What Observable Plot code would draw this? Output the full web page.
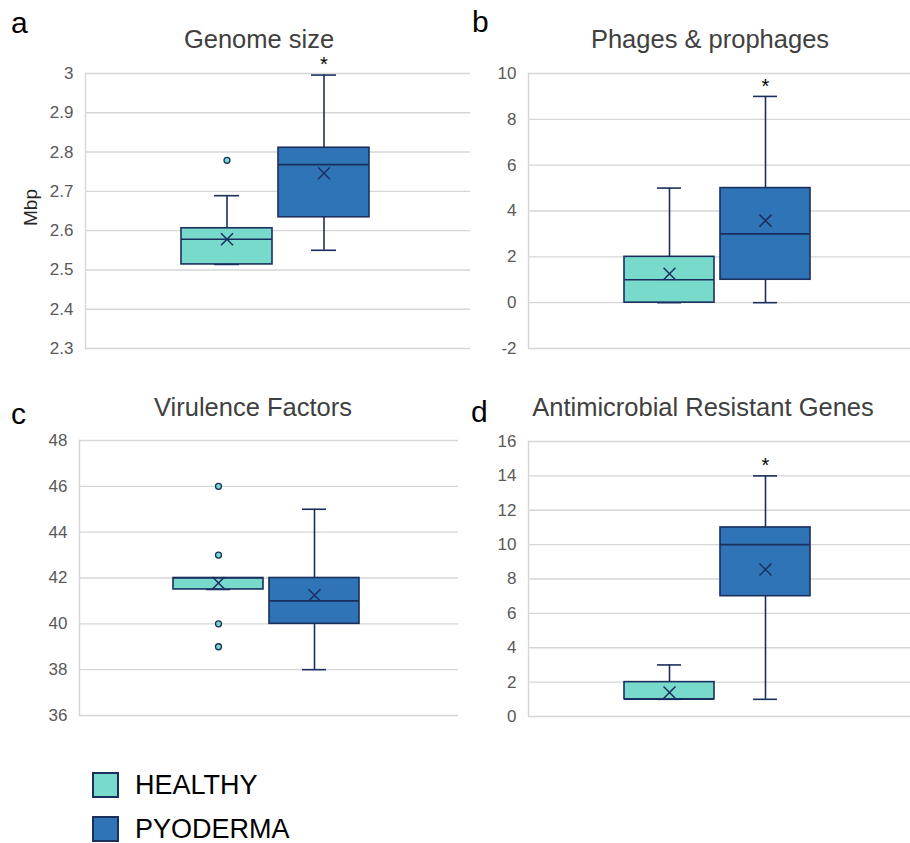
<!DOCTYPE html>
<html>
<head>
<meta charset="utf-8">
<script src="https://cdn.jsdelivr.net/npm/d3@7"></script>
<script src="https://cdn.jsdelivr.net/npm/@observablehq/plot@0.6"></script>
<style>
  body { margin: 0; background: #fff; }
  #root { position: relative; width: 910px; height: 843px; overflow: hidden; font-family: "Liberation Sans", Arial, sans-serif; }
  .panel { position: absolute; }
  .title { position: absolute; font-size: 25.5px; color: #404040; white-space: nowrap; transform: translateX(-50%); line-height: 1; }
  .letter { position: absolute; font-size: 30px; color: #000; line-height: 1; }
  .ylab { position: absolute; font-size: 19px; color: #262626; transform: rotate(-90deg); transform-origin: center; white-space: nowrap; line-height: 1; }
  .leg { position: absolute; display: flex; align-items: center; font-size: 27px; color: #000; line-height: 1; height: 26px; }
  .sw { width: 27px; height: 26px; margin-right: 16px; box-sizing: border-box; border: 2px solid #1b2f5e; }
</style>
</head>
<body>
<div id="root"></div>
<script>
// ---- data ----
const groups = ["HEALTHY", "PYODERMA"];
const groupColors = ["#77dacb", "#2e74b6"];
const outline = "#1b2f5e";
// per group: [min, q1, median, q3, max, mean]
const genomeSize = [[2.514, 2.514, 2.578, 2.606, 2.689, 2.578], [2.550, 2.634, 2.768, 2.811, 2.996, 2.746]];
const genomeOutliers = [[2.779], []];
const genomeTicks = [2.3, 2.4, 2.5, 2.6, 2.7, 2.8, 2.9, 3];
const genomeSig = [false, true];

const phages = [[0, 0, 1, 2, 5, 1.26], [0, 1, 3, 5, 9, 3.58]];
const phagesOutliers = [[], []];
const phagesTicks = [-2, 0, 2, 4, 6, 8, 10];
const phagesSig = [false, true];

const virulence = [[41.5, 41.5, 42, 42, 42, 41.78], [38, 40, 41, 42, 45, 41.25]];
const virulenceOutliers = [[46, 43, 40, 39], []];
const virulenceTicks = [36, 38, 40, 42, 44, 46, 48];
const virulenceSig = [false, false];

const amr = [[1, 1, 1, 2, 3, 1.4], [1, 7, 10, 11, 14, 8.55]];
const amrOutliers = [[], []];
const amrTicks = [0, 2, 4, 6, 8, 10, 12, 14, 16];
const amrSig = [false, true];

// ---- drawing ----
function panel({stats, outliers, ticks, sig, width, height, mt, mb, ml}) {
  const rows = groups.map((g, i) => ({
    group: g, min: stats[i][0], q1: stats[i][1], median: stats[i][2],
    q3: stats[i][3], max: stats[i][4], mean: stats[i][5], sig: sig[i]
  }));
  const outs = outliers.flatMap((arr, i) => arr.map(v => ({group: groups[i], value: v})));
  return Plot.plot({
    width, height,
    marginTop: mt, marginBottom: mb, marginLeft: ml, marginRight: 0,
    style: {fontFamily: '"Liberation Sans", Arial, sans-serif', background: "transparent", overflow: "visible"},
    x: {domain: groups, paddingInner: 0.06, paddingOuter: 1.0, align: 0.49, axis: null},
    y: {domain: [ticks[0], ticks[ticks.length - 1]], label: null},
    color: {domain: groups, range: groupColors},
    marks: [
      Plot.gridY(ticks, {stroke: "#d6d6d6", strokeOpacity: 1, strokeWidth: 1.4}),
      Plot.frame({anchor: "left", stroke: "#d6d6d6", strokeWidth: 1.4}),
      Plot.axisY(ticks, {tickSize: 0, tickPadding: 12, tickFormat: d => String(d), fill: "#595959", fontSize: 17, label: null}),
      Plot.ruleX(rows, {x: "group", y1: "min", y2: "max", stroke: outline, strokeWidth: 1.6}),
      Plot.tickY(rows, {x: "group", y: "min", stroke: outline, strokeWidth: 1.6, insetLeft: 33, insetRight: 33}),
      Plot.tickY(rows, {x: "group", y: "max", stroke: outline, strokeWidth: 1.6, insetLeft: 33, insetRight: 33}),
      Plot.barY(rows, {x: "group", y1: "q1", y2: "q3", fill: "group", stroke: outline, strokeWidth: 1.6}),
      Plot.tickY(rows, {x: "group", y: "median", stroke: outline, strokeWidth: 1.6}),
      Plot.dot(rows, {x: "group", y: "mean", symbol: "times", r: 5.5, stroke: outline, strokeWidth: 1.5}),
      Plot.dot(outs, {x: "group", y: "value", r: 3, fill: groupColors[0], stroke: outline, strokeWidth: 1.3}),
      Plot.text(rows.filter(d => d.sig), {x: "group", y: "max", text: () => "*", dy: -10, fill: "#000", fontSize: 20})
    ]
  });
}

const root = document.getElementById("root");
function place(el, left, top) {
  const wrap = document.createElement("div");
  wrap.className = "panel";
  wrap.style.left = left + "px";
  wrap.style.top = top + "px";
  wrap.appendChild(el);
  root.appendChild(wrap);
}
function addText(cls, text, left, top) {
  const el = document.createElement("div");
  el.className = cls;
  el.textContent = text;
  el.style.left = left + "px";
  el.style.top = top + "px";
  root.appendChild(el);
  return el;
}

place(panel({stats: genomeSize, outliers: genomeOutliers, ticks: genomeTicks, sig: genomeSig,
  width: 470, height: 305, mt: 18, mb: 12, ml: 85}), 0, 55);
place(panel({stats: phages, outliers: phagesOutliers, ticks: phagesTicks, sig: phagesSig,
  width: 440, height: 305, mt: 18, mb: 12, ml: 58}), 470, 55);
place(panel({stats: virulence, outliers: virulenceOutliers, ticks: virulenceTicks, sig: virulenceSig,
  width: 458, height: 305, mt: 20, mb: 10, ml: 79}), 0, 420);
place(panel({stats: amr, outliers: amrOutliers, ticks: amrTicks, sig: amrSig,
  width: 440, height: 305, mt: 21, mb: 9, ml: 58}), 470, 420);

addText("title", "Genome size", 259, 27);
addText("title", "Phages & prophages", 710, 27);
addText("title", "Virulence Factors", 253, 395);
addText("title", "Antimicrobial Resistant Genes", 703, 395);

addText("letter", "a", 11, 8);
addText("letter", "b", 472, 7);
addText("letter", "c", 11, 399);
addText("letter", "d", 471, 397);

addText("ylab", "Mbp", 12, 198);

function legendItem(label, color, top) {
  const el = document.createElement("div");
  el.className = "leg";
  el.style.left = "92px";
  el.style.top = top + "px";
  const sw = document.createElement("div");
  sw.className = "sw";
  sw.style.background = color;
  const t = document.createElement("span");
  t.textContent = label;
  el.appendChild(sw);
  el.appendChild(t);
  root.appendChild(el);
}
legendItem(groups[0], groupColors[0], 772);
legendItem(groups[1], groupColors[1], 816);
</script>
</body>
</html>
